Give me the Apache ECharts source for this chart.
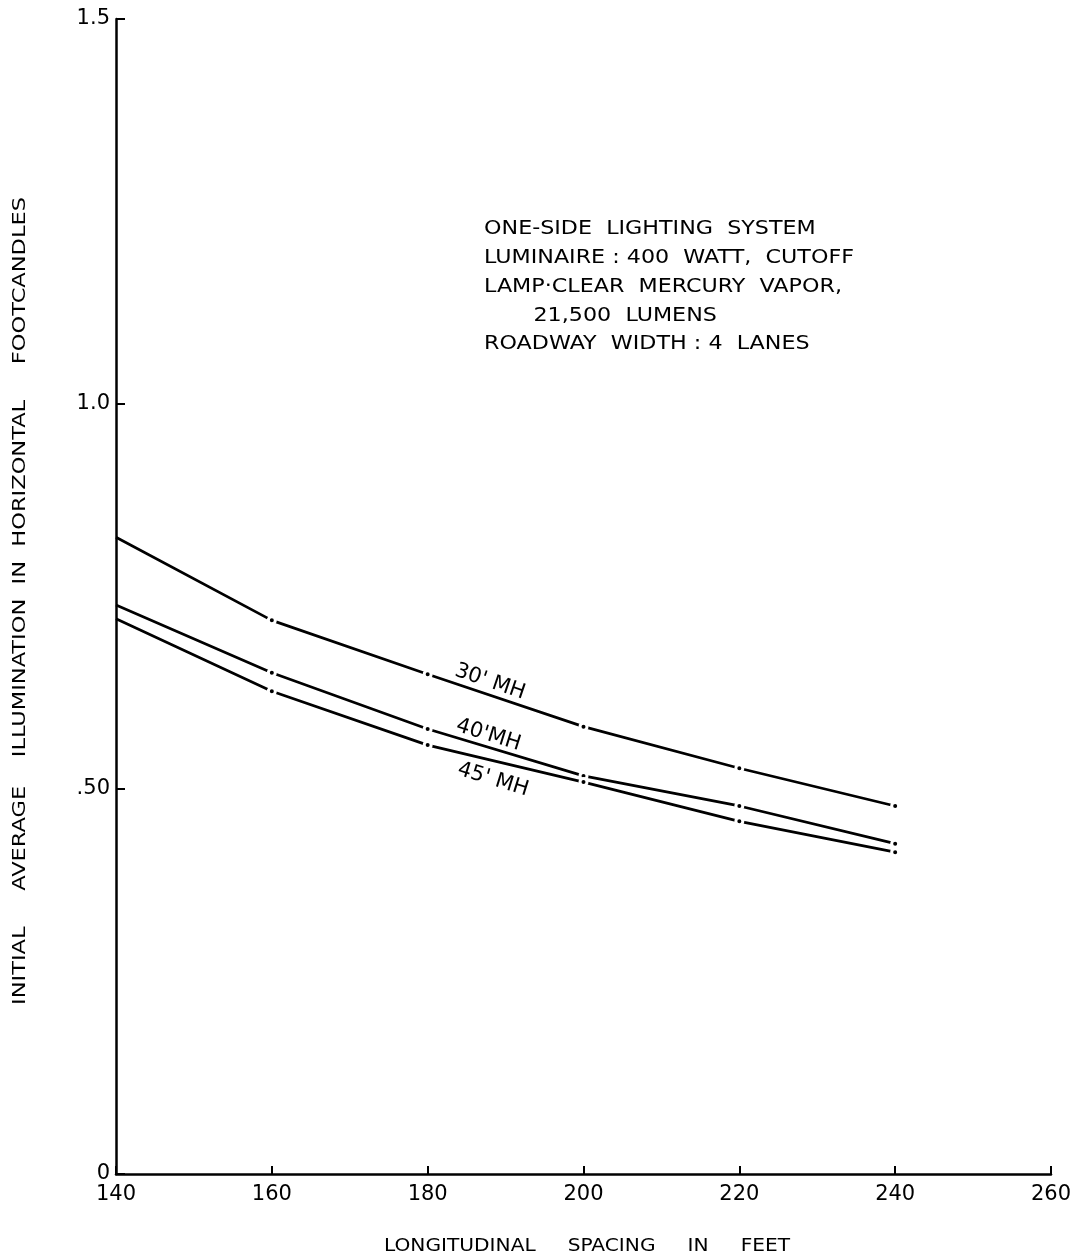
<!DOCTYPE html>
<html><head><meta charset="utf-8">
<script src="https://cdn.jsdelivr.net/npm/echarts@6/dist/echarts.min.js"></script>
<style>html,body{margin:0;padding:0;background:#fff}#c{width:1080px;height:1260px}</style>
</head><body><div id="c"></div>
<script>
const spacing = [140, 160, 180, 200, 220, 240];
const mh30 = [0.827, 0.719, 0.649, 0.581, 0.527, 0.478];
const mh40 = [0.739, 0.651, 0.578, 0.517, 0.478, 0.429];
const mh45 = [0.721, 0.627, 0.557, 0.509, 0.458, 0.418];
const yTickLabels = {0: '0', 0.5: '.50', 1: '1.0', 1.5: '1.5'};
const curveLabels = [
  {text: "30' MH", x: 188, y: 0.639, rot: -0.33},
  {text: "40'MH", x: 187.8, y: 0.570, rot: -0.30},
  {text: "45' MH", x: 188.4, y: 0.512, rot: -0.30}
];
const noteLines = ['ONE-SIDE  LIGHTING  SYSTEM', 'LUMINAIRE : 400  WATT,  CUTOFF', 'LAMP\u00b7CLEAR  MERCURY  VAPOR,', '       21,500  LUMENS', 'ROADWAY  WIDTH : 4  LANES'];
const xTitle = 'LONGITUDINAL     SPACING     IN     FEET';
const yTitle = 'INITIAL     AVERAGE    ILLUMINATION  IN  HORIZONTAL     FOOTCANDLES';

const font = 'DejaVu Sans';
function mk(name, vals) {
  return {
    name: name, type: 'line',
    data: spacing.map((x, i) => i === 0 ? {value: [x, vals[i]], symbol: 'none'} : [x, vals[i]]),
    symbol: 'circle', symbolSize: 7,
    itemStyle: {color: '#000', borderColor: '#fff', borderWidth: 3},
    lineStyle: {color: '#000', width: 2.7},
    emphasis: {disabled: true}, animation: false
  };
}
const chart = echarts.init(document.getElementById('c'));
chart.setOption({
  animation: false,
  backgroundColor: '#fff',
  grid: {left: 116, right: 29, top: 19, bottom: 86},
  xAxis: {
    type: 'value', min: 140, max: 260, interval: 20,
    axisLine: {lineStyle: {color: '#000', width: 2.5}},
    axisTick: {inside: true, length: 8, lineStyle: {color: '#000', width: 2}},
    axisLabel: {color: '#000', fontFamily: font, fontSize: 21, margin: 10},
    splitLine: {show: false}
  },
  yAxis: {
    type: 'value', min: 0, max: 1.5, interval: 0.5,
    axisLine: {lineStyle: {color: '#000', width: 2.5}},
    axisTick: {inside: true, length: 9, lineStyle: {color: '#000', width: 2}},
    axisLabel: {color: '#000', fontFamily: font, fontSize: 21, margin: 6, formatter: v => yTickLabels[v] !== undefined ? yTickLabels[v] : ''},
    splitLine: {show: false}
  },
  series: [mk("30' MH", mh30), mk("40' MH", mh40), mk("45' MH", mh45)]
});
const g = [];
curveLabels.forEach(l => {
  const p = chart.convertToPixel({gridIndex: 0}, [l.x, l.y]);
  g.push({type: 'text', x: p[0], y: p[1], rotation: l.rot,
    style: {text: l.text, fill: '#000', font: '21px "DejaVu Sans"', textAlign: 'center', textVerticalAlign: 'middle'}});
});
noteLines.forEach((t, i) => {
  g.push({type: 'text', x: 484, y: 220 + i * 28.7, scaleX: 1.17,
    style: {text: t, fill: '#000', font: '19px "DejaVu Sans"', textVerticalAlign: 'top'}});
});
g.push({type: 'text', x: 587, y: 1246, scaleX: 1.12,
  style: {text: xTitle, fill: '#000', font: '18px "DejaVu Sans"', textAlign: 'center', textVerticalAlign: 'middle'}});
g.push({type: 'text', x: 20, y: 601, rotation: Math.PI / 2, scaleX: 1.25,
  style: {text: yTitle, fill: '#000', font: '18px "DejaVu Sans"', textAlign: 'center', textVerticalAlign: 'middle'}});
chart.setOption({graphic: g});
</script></body></html>
